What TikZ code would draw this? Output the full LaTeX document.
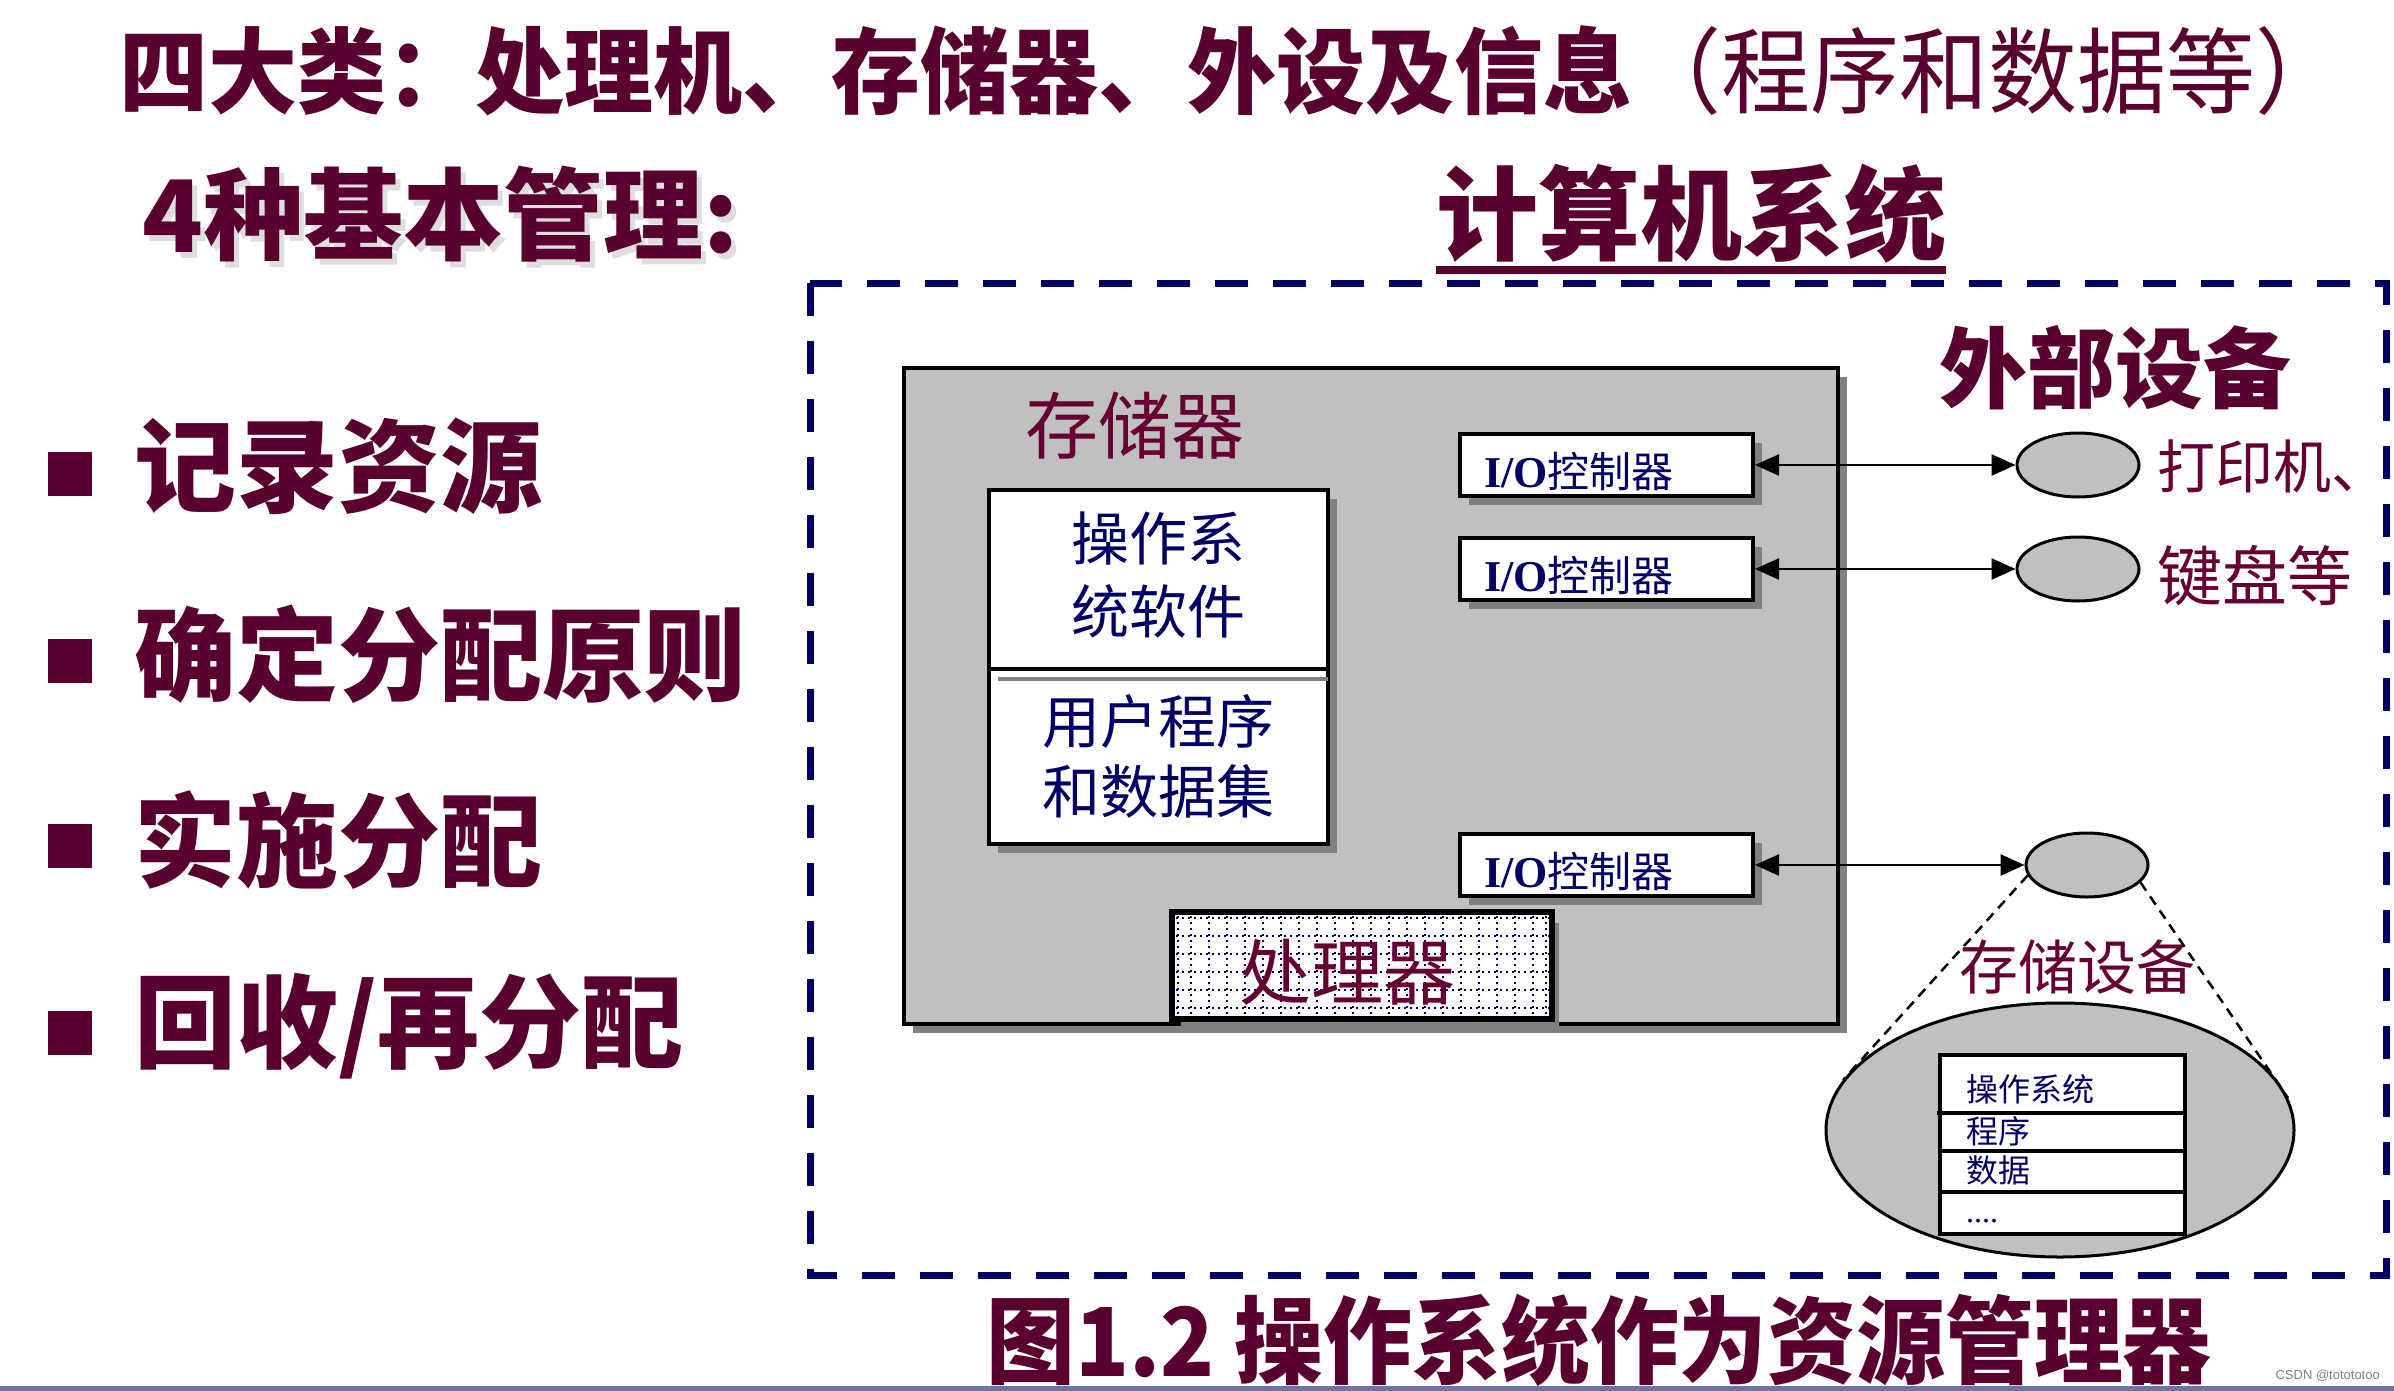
\documentclass[tikz,border=0pt]{standalone}
\usepackage{fontspec}
\setmainfont{Liberation Serif}
\newfontfamily\cjk{Noto Sans CJK SC}
\newfontfamily\tms{Liberation Serif}
\newfontfamily\lsans{Liberation Sans}
\usetikzlibrary{arrows.meta,shapes.geometric,shadows}
\definecolor{mrn}{HTML}{5A002E}
\definecolor{mrn2}{HTML}{660033}
\definecolor{nvy}{HTML}{000066}
\definecolor{bgray}{HTML}{C0C0C0}
\definecolor{sgray}{HTML}{808080}
\definecolor{barblue}{HTML}{6E73A6}
\newcommand\fsz[2]{\fontsize{#1pt}{#2pt}\selectfont}
\begin{document}
\begin{tikzpicture}[x=1pt,y=-1pt,
  boxsh/.style={general shadow={shadow xshift=9pt,shadow yshift=-9pt,fill=sgray}},
  ttl/.style={text=mrn,inner sep=0pt,font=\cjk\bfseries},
  bul/.style={fill=mrn,minimum size=44pt,inner sep=0pt},
  btxt/.style={ttl,anchor=west,font=\cjk\bfseries\fsz{102}{102}},
  serlbl/.style={text=mrn2,inner sep=0pt},
  iobox/.style={draw,line width=4pt,fill=white,boxsh,minimum width=293pt,minimum height=62pt,inner sep=0pt},
  iotxt/.style={text=nvy,anchor=west,inner sep=0pt,font=\cjk\fsz{42}{42}},
  dev/.style={ellipse,draw,line width=3pt,fill=bgray,minimum width=122pt,minimum height=64pt,inner sep=0pt},
  biarrow/.style={{Triangle[length=24pt,width=21pt]}-{Triangle[length=24pt,width=21pt]},line width=2.5pt},
  gridln/.style={nvy,line width=2pt,dash pattern=on 2pt off 4pt},
  cone/.style={line width=2.5pt,dash pattern=on 10pt off 7pt},
  tbltxt/.style={text=nvy,anchor=west,inner sep=0pt,font=\cjk\fsz{32}{32}}
]
\useasboundingbox (0,0) rectangle (2394,1391);
\fill[white] (0,0) rectangle (2394,1391);

% titles
\node[ttl,anchor=west,font=\cjk\bfseries\fsz{89}{89},yscale=1.05,transform shape] (title) at (119,71)
  {四大类：处理机、存储器、外设及信息{\mdseries （程序和数据等）}};
\node[ttl,anchor=west,text=black,opacity=0.13,font=\cjk\bfseries\fsz{100}{100}] at (147,220) {4种基本管理:};
\node[ttl,anchor=west,font=\cjk\bfseries\fsz{100}{100}] (jbgl) at (142,214) {4种基本管理:};
\node[ttl,font=\cjk\bfseries\fsz{102}{102}] (jsj) at (1691,214) {计算机系统};
\draw[mrn,line width=8pt] (jsj.south west |- 0,270) -- (jsj.south east |- 0,270);

% bullets
\node[bul] (b1) at (70,474) {};
\node[btxt] (t1) at (134,466) {记录资源};
\node[bul] (b2) at (70,661) {};
\node[btxt] (t2) at (134,654) {确定分配原则};
\node[bul] (b3) at (70,846) {};
\node[btxt] (t3) at (134,840) {实施分配};
\node[bul] (b4) at (70,1033) {};
\node[btxt] (t4) at (134,1026) {回收/再分配};

% dashed frame
\draw[nvy,line width=7pt,dash pattern=on 33pt off 25pt] (810,283) rectangle (2386,1275);

% memory box
\node[draw,line width=4pt,fill=bgray,boxsh,minimum width=934pt,minimum height=656pt,inner sep=0pt] (mem) at (1371,696) {};
\node[serlbl,font=\cjk\fsz{73}{73}] (memlbl) at (1135,426) {存储器};

% OS box
\node[draw,line width=4pt,fill=white,boxsh,minimum width=339pt,minimum height=354pt,inner sep=0pt] (os) at (1158.5,667) {};
\draw[sgray,line width=4pt] (998,679) -- (1328,679);
\draw[line width=4pt] (989,669) -- (1328,669);
\node[text=nvy,font=\cjk\fsz{58}{73},align=center,inner sep=0pt] (ostxt) at (1158,575) {操作系\\统软件};
\node[text=nvy,font=\cjk\fsz{58}{70},align=center,inner sep=0pt] (ustxt) at (1158,756) {用户程序\\和数据集};

% I/O controllers
\node[iobox] (io1) at (1606.5,465) {};
\node[iotxt] (iot1) at (1484,472) {{\tms\bfseries\fsz{44}{44}I/O}控制器};
\node[iobox] (io2) at (1606.5,569) {};
\node[iotxt] (iot2) at (1484,576) {{\tms\bfseries\fsz{44}{44}I/O}控制器};
\node[iobox] (io3) at (1606.5,865) {};
\node[iotxt] (iot3) at (1484,872) {{\tms\bfseries\fsz{44}{44}I/O}控制器};

% processor
\node[draw,line width=4pt,fill=white,general shadow={shadow xshift=8pt,shadow yshift=-10pt,fill=sgray},minimum width=378pt,minimum height=105pt,inner sep=0pt] (cpu) at (1362,965.5) {};
\begin{scope}
  \clip (1176,916) rectangle (1549,1016);
  \foreach \gx in {1178,1191,1209,...,1533,1546} \draw[gridln] (\gx,916) -- (\gx,1016);
  \foreach \gy in {918,936,...,1010} \draw[gridln] (1176,\gy) -- (1549,\gy);
\end{scope}
\draw[line width=4pt] (cpu.north west) rectangle (cpu.south east);
\node[serlbl,font=\cjk\fsz{72}{72}] (cpulbl) at (1347,972) {处理器};

% external devices
\node[ttl,font=\cjk\bfseries\fsz{88}{88}] (ext) at (2115,368) {外部设备};
\node[dev] (e1) at (2078,465) {};
\node[dev] (e2) at (2078,569) {};
\node[dev] (e3) at (2087,865) {};
\node[serlbl,anchor=west,font=\cjk\fsz{58}{58}] (prn) at (2157,466) {打印机、};
\node[serlbl,anchor=west,font=\cjk\fsz{65}{65}] (kbd) at (2157,576) {键盘等};
\draw[biarrow] (io1.east) -- (e1.west);
\draw[biarrow] (io2.east) -- (e2.west);
\draw[biarrow] (io3.east) -- (e3.west);

% storage device
\node[ellipse,draw,line width=3pt,fill=bgray,minimum width=468pt,minimum height=254pt,inner sep=0pt] (big) at (2060,1130) {};
\draw[cone] (e3.190) -- (big.167);
\draw[cone] (e3.342) -- (big.8);
\node[serlbl,font=\cjk\fsz{59}{59}] (stlbl) at (2077,967) {存储设备};
\node[draw,line width=3.5pt,fill=white,minimum width=245pt,minimum height=179pt,inner sep=0pt] (tbl) at (2062.5,1144.5) {};
\draw[line width=3.5pt] (1937,1113) -- (2187,1113);
\draw[line width=3.5pt] (1940,1151) -- (2187,1151);
\draw[line width=3.5pt] (1940,1192) -- (2187,1192);
\node[tbltxt] (r1) at (1966,1089) {操作系统};
\node[tbltxt] (r2) at (1966,1131) {程序};
\node[tbltxt] (r3) at (1966,1170) {数据};
\node[text=nvy,anchor=base west,inner sep=0pt,font=\tms\fsz{32}{32}] (r4) at (1966,1222) {....};

% caption
\node[ttl,font=\cjk\bfseries\fsz{95}{95},xscale=0.935,transform shape] (cap) at (1599,1340) {图1.2 操作系统作为资源管理器};
\node[text=gray,font=\lsans\fsz{13}{13},inner sep=0pt,anchor=east] (wm) at (2380,1376) {CSDN @totototoo};
\fill[barblue] (0,1386) rectangle (2394,1391);
\end{tikzpicture}
\end{document}
